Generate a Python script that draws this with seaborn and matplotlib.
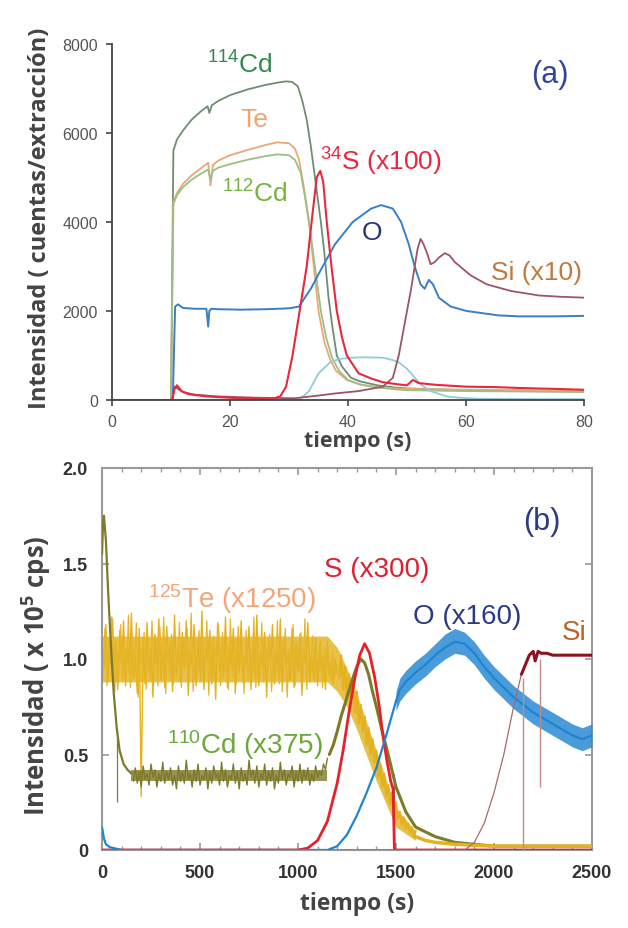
import numpy as np
import matplotlib
matplotlib.use("Agg")
import matplotlib.pyplot as plt
import seaborn as sns

# ---------------- panel (a): tiempo (s) vs cuentas/extraccion ----------------
cd114_t = [0, 10.0, 10.4, 11.0, 12, 13.5, 15, 16.2, 16.5, 16.9, 18, 20, 23, 26, 28, 29.5, 30.5, 31.5, 32.3, 33.0,
           33.7, 34.5, 35.4, 36.0, 36.7, 37.4, 38.1, 39.0, 40.5, 42, 45, 48, 50, 55, 60, 70, 80]
cd114_v = [0, 0, 5600, 5850, 6050, 6300, 6480, 6600, 6450, 6620, 6720, 6850, 6980, 7080, 7130, 7160, 7150, 7050, 6700, 6300,
           5700, 4900, 4000, 3300, 2300, 1600, 1000, 750, 500, 420, 330, 280, 260, 240, 220, 200, 190]

te_t = [0, 10.0, 10.4, 11.0, 12, 13.5, 15, 16.3, 16.7, 17.1, 18, 20, 23, 26, 28, 30, 31, 31.7, 32.5, 33.4,
        34.2, 35.0, 36.0, 37.0, 38.0, 39.8, 42, 45, 48, 50, 55, 60, 70, 80]
te_v = [0, 0, 4450, 4650, 4850, 5050, 5200, 5330, 4820, 5280, 5380, 5500, 5620, 5730, 5790, 5770, 5650, 5400, 4800, 4000,
        3000, 2000, 1300, 900, 650, 450, 350, 290, 260, 250, 240, 230, 220, 210]

cd112_t = [0, 10.0, 10.4, 11.0, 12, 13.5, 15, 16.3, 16.7, 17.1, 18, 20, 23, 26, 28, 30, 31, 32.0, 32.8, 33.7,
           34.6, 35.4, 36.3, 37.3, 38.5, 40, 42, 45, 48, 50, 55, 60, 70, 80]
cd112_v = [0, 0, 4400, 4600, 4780, 4950, 5080, 5180, 4950, 5150, 5220, 5300, 5400, 5480, 5520, 5500, 5400, 5100, 4500, 3700,
           2800, 2000, 1400, 950, 650, 450, 350, 280, 240, 220, 210, 200, 190, 180]

o_a_t = [0, 10.3, 10.7, 11.2, 12, 14, 16.0, 16.3, 16.5, 16.8, 18, 22, 26, 30, 31.7, 33.7, 35.7, 37.8, 40.8, 43.9,
         45.6, 47.6, 49.0, 50.3, 51.3, 52.3, 53.0, 53.7, 54.4, 55.4, 57.4, 60.1, 65.6, 69, 75, 80]
o_a_v = [0, 0, 2100, 2150, 2070, 2050, 2050, 1650, 2000, 2050, 2040, 2030, 2040, 2060, 2100, 2500, 3000, 3500, 4000, 4300,
         4380, 4300, 4000, 3500, 3000, 2600, 2500, 2700, 2600, 2300, 2100, 2000, 1900, 1880, 1880, 1890]

s_a_t = [0, 10.2, 10.6, 11.0, 11.8, 13, 16, 20, 25, 27, 28.5, 29.5, 30.6, 31.8, 33.0, 34.0, 34.7, 35.3, 35.8, 36.4,
         37.2, 38.1, 39.0, 39.8, 41.8, 44, 45.9, 48.6, 50, 51, 52, 55, 60, 65, 69, 75, 80]
s_a_v = [0, 0, 250, 330, 200, 130, 80, 50, 20, 20, 80, 300, 1000, 2000, 3000, 4200, 5000, 5150, 4900, 4000,
         3000, 2000, 1400, 1000, 600, 480, 400, 350, 330, 450, 380, 340, 300, 290, 270, 250, 230]

si_a_t = [0, 10.2, 10.6, 11.2, 12, 14, 18, 25, 31, 35, 38, 41.8, 45.9, 47.6, 48.6, 49.3, 50.0, 50.7, 51.3, 51.8,
          52.3, 52.8, 53.4, 54.0, 54.7, 55.4, 56.4, 57.2, 58.1, 60.8, 63.5, 67.6, 72.3, 76, 80]
si_a_v = [0, 0, 300, 250, 180, 120, 80, 50, 40, 100, 150, 200, 300, 500, 1000, 1500, 2000, 2500, 3000, 3400,
          3620, 3500, 3300, 3050, 3100, 3200, 3300, 3250, 3100, 2800, 2600, 2450, 2350, 2320, 2300]

cyan_t = [0, 31.7, 33.4, 35.0, 37.0, 38.5, 40.5, 43, 45.9, 47.5, 48.6, 50.0, 51.3, 52.5, 54.0, 56.7, 59, 62, 70, 80]
cyan_v = [0, 0, 200, 600, 850, 920, 950, 960, 950, 900, 850, 700, 500, 330, 200, 80, 50, 30, 20, 20]

# ---------------- panel (b): tiempo (s) vs intensidad (x 1e5 cps) ----------------
# 125Te plateau, read every 10 s from 0 to 1200 s
te_zz = [1.12, 0.95, 1.18, 0.88, 1.05, 1.22, 0.92, 1.10, 0.84, 1.15,
         0.97, 1.20, 0.86, 1.08, 0.93, 1.24, 0.90, 1.02, 0.82, 1.16,
         0.28, 1.11, 0.87, 1.19, 0.94, 1.06, 0.80, 1.13, 0.96, 1.21,
         0.89, 1.04, 0.85, 1.17, 0.98, 1.09, 0.83, 1.23, 0.91, 1.07,
         0.88, 1.14, 0.95, 1.20, 0.81, 1.03, 0.97, 1.18, 0.86, 1.10,
         0.92, 1.25, 0.84, 1.06, 0.99, 1.15, 0.87, 1.12, 0.79, 1.19,
         0.94, 1.05, 0.90, 1.22, 0.85, 1.08, 0.96, 1.16, 0.82, 1.11,
         0.93, 1.20, 0.88, 1.02, 0.97, 1.17, 0.84, 1.09, 0.91, 1.23,
         0.86, 1.04, 0.95, 1.14, 0.80, 1.10, 0.98, 1.18, 0.87, 1.06,
         0.92, 1.21, 0.83, 1.12, 0.96, 1.03, 0.89, 1.16, 0.85, 1.08,
         0.94, 1.13, 0.81, 1.05, 0.97, 1.19, 0.88, 1.01, 0.90, 1.11,
         0.86, 1.07, 0.93, 1.02, 0.84, 1.09, 0.91, 0.98, 0.87, 1.00, 0.92]
# same signal, in-between readings (5 s to 1195 s)
te_zz2 = [0.90, 1.16, 0.86, 1.09, 0.97, 1.21, 0.83, 1.04, 0.92, 1.18,
          0.88, 1.07, 0.95, 1.23, 0.85, 1.12, 0.91, 1.19, 0.80, 1.06,
          0.98, 1.14, 0.84, 1.10, 0.89, 1.20, 0.93, 1.03, 0.86, 1.17,
          0.96, 1.22, 0.82, 1.08, 0.90, 1.13, 0.87, 1.01, 0.94, 1.19,
          0.85, 1.11, 0.97, 1.16, 0.89, 1.24, 0.83, 1.05, 0.92, 1.15,
          0.88, 1.09, 0.95, 1.20, 0.81, 1.12, 0.90, 1.06, 0.98, 1.18,
          0.86, 1.14, 0.93, 1.03, 0.84, 1.21, 0.91, 1.10, 0.87, 1.17,
          0.96, 1.07, 0.82, 1.15, 0.89, 1.04, 0.94, 1.22, 0.85, 1.12,
          0.91, 1.19, 0.88, 1.08, 0.97, 1.13, 0.83, 1.06, 0.92, 1.20,
          0.87, 1.11, 0.95, 1.16, 0.80, 1.05, 0.90, 1.18, 0.86, 1.09,
          0.93, 1.14, 0.89, 1.21, 0.84, 1.07, 0.96, 1.12, 0.88, 1.03,
          0.91, 1.10, 0.85, 1.06, 0.94, 1.01, 0.89, 1.04, 0.90, 0.97]
# 125Te decay, every 10 s from 1210 to 1600 s
te_dec = [0.90, 1.02, 0.84, 0.96, 0.78, 0.92, 0.80, 0.88, 0.72, 0.83,
          0.66, 0.76, 0.62, 0.70, 0.55, 0.64, 0.50, 0.58, 0.46, 0.52,
          0.38, 0.45, 0.33, 0.40, 0.28, 0.34, 0.24, 0.30, 0.20, 0.25,
          0.16, 0.20, 0.13, 0.17, 0.11, 0.14, 0.09, 0.12, 0.07, 0.10]
te_tail_t = [1600, 1650, 1700, 1800, 1900, 2000, 2200, 2500]
te_tail_v = [0.07, 0.05, 0.04, 0.03, 0.025, 0.02, 0.02, 0.02]
te_band_t = [0, 1150, 1200, 1250, 1300, 1400, 1500, 1600]
te_band_lo = [0.88, 0.88, 0.83, 0.75, 0.63, 0.36, 0.12, 0.05]
te_band_hi = [1.12, 1.12, 1.06, 0.95, 0.82, 0.52, 0.22, 0.10]

cd_start_t = [0, 5, 10, 20, 30, 45, 60, 75, 90, 110, 130, 150]
cd_start_v = [1.55, 1.70, 1.75, 1.62, 1.38, 1.08, 0.82, 0.64, 0.52, 0.45, 0.42, 0.40]
# 110Cd plateau, every 10 s from 160 to 1150 s
cd_zz = [0.36, 0.43, 0.35, 0.41, 0.33, 0.44, 0.37, 0.40, 0.34, 0.45,
         0.38, 0.42, 0.33, 0.40, 0.36, 0.46, 0.35, 0.41, 0.37, 0.43,
         0.34, 0.39, 0.32, 0.44, 0.36, 0.41, 0.35, 0.47, 0.37, 0.40,
         0.33, 0.42, 0.36, 0.45, 0.34, 0.39, 0.37, 0.43, 0.32, 0.41,
         0.35, 0.44, 0.38, 0.40, 0.34, 0.46, 0.36, 0.42, 0.33, 0.39,
         0.37, 0.45, 0.35, 0.41, 0.32, 0.43, 0.36, 0.40, 0.34, 0.47,
         0.38, 0.42, 0.35, 0.44, 0.33, 0.40, 0.37, 0.45, 0.34, 0.41,
         0.36, 0.43, 0.32, 0.39, 0.35, 0.46, 0.37, 0.42, 0.34, 0.40,
         0.38, 0.44, 0.33, 0.41, 0.36, 0.45, 0.35, 0.42, 0.37, 0.43,
         0.34, 0.40, 0.36, 0.44, 0.38, 0.41, 0.39, 0.45, 0.42, 0.48]
cd_end_t = [1160, 1180, 1200, 1220, 1250, 1280, 1300, 1320, 1340, 1360, 1380, 1400, 1430, 1460, 1500, 1550,
            1600, 1700, 1800, 1900, 2000, 2200, 2500]
cd_end_v = [0.50, 0.55, 0.62, 0.70, 0.80, 0.90, 0.96, 1.00, 0.98, 0.92, 0.83, 0.75, 0.62, 0.50, 0.33, 0.20,
            0.12, 0.07, 0.04, 0.03, 0.02, 0.02, 0.02]
cd_band_t = [150, 1150]
cd_band_lo = [0.36, 0.36]
cd_band_hi = [0.42, 0.42]
cd_spike_t = [75, 1490]
cd_spike_lo = [0.25, 0.0]
cd_spike_hi = [0.64, 0.40]

s_b_t = [0, 1000, 1050, 1100, 1150, 1200, 1230, 1260, 1290, 1315, 1340, 1365, 1392, 1415, 1433, 1455, 1473, 1485, 1492, 2500]
s_b_v = [0, 0, 0.01, 0.05, 0.15, 0.35, 0.52, 0.72, 0.90, 1.02, 1.08, 1.03, 0.90, 0.75, 0.60, 0.46, 0.36, 0.32, 0.0, 0.0]

o_rise_t = [0, 10, 20, 40, 60, 100, 1150, 1200, 1250, 1300, 1350, 1400, 1450, 1500]
o_rise_v = [0.12, 0.06, 0.03, 0.015, 0.01, 0.0, 0.0, 0.02, 0.08, 0.18, 0.30, 0.43, 0.60, 0.78]
o_b_t = [1500, 1520, 1550, 1600, 1650, 1700, 1750, 1800, 1850, 1900, 1950, 2000, 2050, 2100, 2150, 2200,
         2250, 2300, 2350, 2400, 2450, 2500]
o_b_mid = [0.78, 0.84, 0.88, 0.93, 0.97, 1.02, 1.06, 1.09, 1.08, 1.03, 0.96, 0.90, 0.85, 0.80, 0.76, 0.72,
           0.69, 0.66, 0.63, 0.60, 0.58, 0.60]
o_b_hi = [0.83, 0.90, 0.94, 0.99, 1.03, 1.08, 1.13, 1.16, 1.14, 1.09, 1.02, 0.96, 0.91, 0.86, 0.82, 0.78,
          0.75, 0.72, 0.69, 0.66, 0.64, 0.66]
o_b_lo = [0.73, 0.78, 0.82, 0.87, 0.91, 0.96, 1.00, 1.03, 1.02, 0.97, 0.90, 0.84, 0.79, 0.74, 0.70, 0.66,
          0.63, 0.60, 0.57, 0.54, 0.52, 0.54]

si_rise_t = [0, 1850, 1900, 1950, 2000, 2050, 2100, 2140]
si_rise_v = [0, 0, 0.04, 0.14, 0.30, 0.50, 0.75, 0.92]
si_top_t = [2140, 2160, 2180, 2200, 2210, 2225, 2240, 2270, 2300, 2400, 2500]
si_top_v = [0.92, 0.97, 1.02, 1.04, 0.99, 1.04, 1.03, 1.03, 1.02, 1.02, 1.02]
si_spike_t = [2150, 2235]
si_spike_lo = [0.0, 0.33]
si_spike_hi = [0.90, 1.00]

sns.set_style("ticks")
plt.rcParams['font.family'] = ['Liberation Sans', 'DejaVu Sans']
plt.rcParams['mathtext.default'] = 'regular'
LABEL_FONT = ['Open Sans', 'DejaVu Sans']


def line(ax, t, v, color, lw, z=2):
    sns.lineplot(x=t, y=v, ax=ax, color=color, linewidth=lw, estimator=None, sort=False, zorder=z)


fig = plt.figure(figsize=(6.28, 9.29), dpi=100)
ax1 = fig.add_axes([112 / 628, 1 - 401 / 929, 472 / 628, 356 / 929])
ax2 = fig.add_axes([102 / 628, 1 - 851 / 929, 490 / 628, 382 / 929])

# ---- (a) ----
line(ax1, cd114_t, cd114_v, '#6f8d72', 1.3)
line(ax1, te_t, te_v, '#eaa877', 1.3)
line(ax1, cd112_t, cd112_v, '#9fbd86', 1.3)
line(ax1, cyan_t, cyan_v, '#93cbd9', 1.3)
line(ax1, o_a_t, o_a_v, '#3a7fc6', 1.4)
line(ax1, si_a_t, si_a_v, '#9b5565', 1.3)
line(ax1, s_a_t, s_a_v, '#e8283c', 1.5)

ax1.set_xlim(0, 80)
ax1.set_ylim(0, 8000)
ax1.set_xticks([0, 20, 40, 60, 80])
ax1.set_yticks([0, 2000, 4000, 6000, 8000])
sns.despine(ax=ax1)
for sp in ['left', 'bottom']:
    ax1.spines[sp].set_color('#444444')
    ax1.spines[sp].set_linewidth(1.3)
ax1.tick_params(direction='out', length=4, width=1.2, color='#444444', labelcolor='#555555',
                labelsize=11.5, pad=6)

ax1.set_ylabel('Intensidad ( cuentas/extracción)', fontsize=17, fontweight='bold', color='#444444',
               family=LABEL_FONT)
ax1.yaxis.set_label_coords(-0.128, 0.514)
ax1.set_xlabel('tiempo (s)', fontsize=15.5, fontweight='bold', color='#444444', family=LABEL_FONT)
ax1.xaxis.set_label_coords(0.52, -0.085)

ax1.text(21.7, 7550, r'$^{114}$Cd', color='#2f8a50', fontsize=19, ha='center', va='center')
ax1.text(24.2, 6315, 'Te', color='#f2a36e', fontsize=19, ha='center', va='center')
ax1.text(24.2, 4650, r'$^{112}$Cd', color='#74b43c', fontsize=19, ha='center', va='center')
ax1.text(45.6, 5370, r'$^{34}$S (x100)', color='#e8283c', fontsize=19, ha='center', va='center')
ax1.text(44.1, 3775, 'O', color='#27327a', fontsize=19, ha='center', va='center')
ax1.text(71.9, 2875, 'Si (x10)', color='#c07a40', fontsize=19, ha='center', va='center')
ax1.text(74.2, 7325, '(a)', color='#34449a', fontsize=22, ha='center', va='center')

# ---- (b) ----
ax2.fill_between(te_band_t, te_band_lo, te_band_hi, color='#e3b21e', alpha=0.8, lw=0, zorder=1)
line(ax2, np.linspace(0, 1200, len(te_zz)), te_zz, '#e3b21e', 1.0, 2)
line(ax2, np.linspace(5, 1195, len(te_zz2)), te_zz2, '#e6b52a', 0.9, 2)
line(ax2, np.linspace(1210, 1600, len(te_dec)), te_dec, '#e3b21e', 1.6, 2)
line(ax2, te_tail_t, te_tail_v, '#e3b21e', 2.5, 4)

ax2.fill_between(cd_band_t, cd_band_lo, cd_band_hi, color='#7d7a2a', alpha=0.8, lw=0, zorder=2)
line(ax2, cd_start_t, cd_start_v, '#7d7a2a', 1.6, 3)
line(ax2, np.linspace(160, 1150, len(cd_zz)), cd_zz, '#7d7a2a', 1.0, 3)
line(ax2, cd_end_t, cd_end_v, '#7d7a2a', 2.2, 3)
ax2.vlines(cd_spike_t, cd_spike_lo, cd_spike_hi, color='#7d7a50', lw=0.9, zorder=3)

line(ax2, s_b_t, s_b_v, '#e8202a', 2.0, 3)

ax2.fill_between(o_b_t, o_b_lo, o_b_hi, color='#2a8ad4', alpha=0.85, lw=0, zorder=3)
line(ax2, o_rise_t, o_rise_v, '#1f85d0', 1.6, 3)
line(ax2, o_b_t, o_b_mid, '#1f85d0', 1.6, 3)

line(ax2, si_rise_t, si_rise_v, '#a86a6a', 0.9, 4)
line(ax2, si_top_t, si_top_v, '#8a1520', 2.2, 4)
ax2.vlines(si_spike_t, si_spike_lo, si_spike_hi, color='#c08a8a', lw=1.0, zorder=4)

ax2.set_xlim(0, 2500)
ax2.set_ylim(0, 2.0)
ax2.set_xticks([0, 500, 1000, 1500, 2000, 2500])
ax2.set_xticks(np.arange(0, 2501, 100), minor=True)
ax2.set_yticks([0, 0.5, 1.0, 1.5, 2.0])
ax2.set_yticklabels(['0', '0.5', '1.0', '1.5', '2.0'])
for sp in ax2.spines.values():
    sp.set_color('#9a9a9a')
    sp.set_linewidth(1.5)
ax2.tick_params(which='both', direction='in', top=True, right=True, color='#9a9a9a')
ax2.tick_params(which='major', length=5, width=1.2, labelsize=13, labelcolor='#333333', pad=10)
ax2.tick_params(which='minor', length=3, width=1.0)
for lab in ax2.get_xticklabels() + ax2.get_yticklabels():
    lab.set_fontweight('bold')

ax2.set_ylabel(r'Intensidad ( x 10$^5$ cps)', fontsize=18.5, fontweight='bold', color='#444444',
               family=LABEL_FONT)
ax2.yaxis.set_label_coords(-0.1, 0.46)
ax2.set_xlabel('tiempo (s)', fontsize=16.5, fontweight='bold', color='#444444', family=LABEL_FONT)
ax2.xaxis.set_label_coords(0.52, -0.108)

ax2.text(663, 1.32, r'$^{125}$Te (x1250)', color='#f2a77a', fontsize=20, ha='center', va='center')
ax2.text(730, 0.555, r'$^{110}$Cd (x375)', color='#6aa83a', fontsize=20, ha='center', va='center')
ax2.text(1403, 1.47, 'S (x300)', color='#e02030', fontsize=20, ha='center', va='center')
ax2.text(1862, 1.225, 'O (x160)', color='#2c3a80', fontsize=20, ha='center', va='center')
ax2.text(2408, 1.14, 'Si', color='#b8652a', fontsize=20, ha='center', va='center')
ax2.text(2245, 1.72, '(b)', color='#2c3a80', fontsize=22, ha='center', va='center')

fig.savefig('out.png', dpi=100)
